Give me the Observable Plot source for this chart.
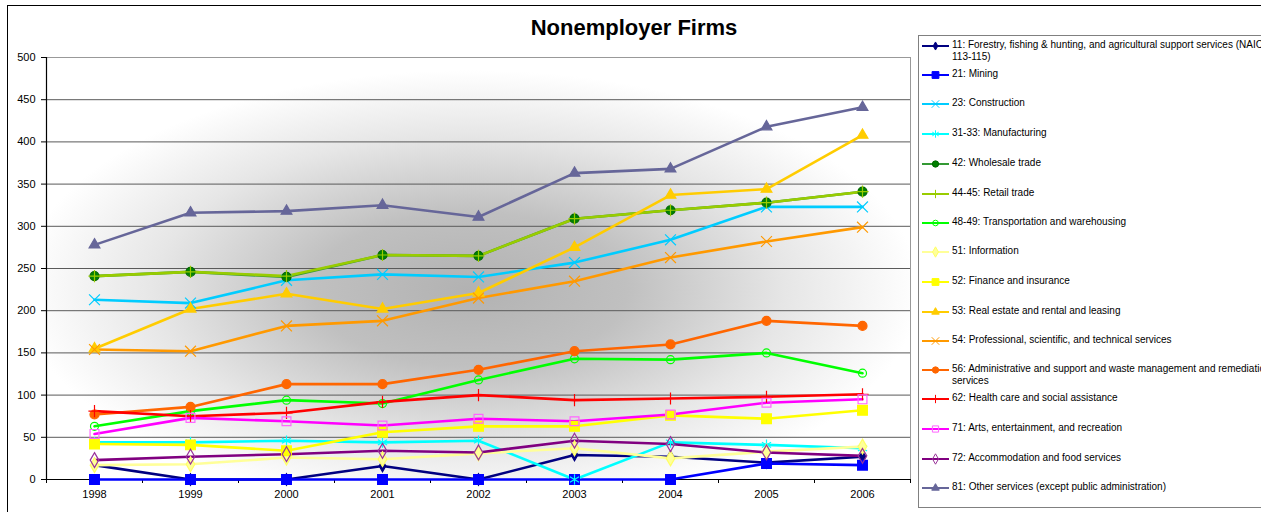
<!DOCTYPE html>
<html>
<head>
<meta charset="utf-8">
<script src="https://cdn.jsdelivr.net/npm/d3@7"></script>
<script src="https://cdn.jsdelivr.net/npm/@observablehq/plot@0.6"></script>
<style>
  html, body { margin: 0; padding: 0; background: #fff; overflow: hidden; }
  #wrap { position: relative; width: 1261px; height: 512px; overflow: hidden; font-family: "Liberation Sans", Arial, sans-serif; }
  #border { position: absolute; left: 7px; top: 5px; width: 1300px; height: 600px; border-top: 1px solid #000; border-left: 1px solid #000; }
  #title { position: absolute; left: 0; width: 1268px; top: 15px; text-align: center; font-weight: bold; font-size: 22px; color: #000; }
  #chart { position: absolute; left: 0; top: 0; }
  #legend { position: absolute; left: 918px; top: 35px; width: 400px; height: 471px; border: 1px solid #808080; background: #fff; }
  .row { position: absolute; left: 0; height: 12px; white-space: nowrap; }
  .row svg { position: absolute; left: 3px; top: 0; }
  .row span { position: absolute; left: 33px; top: -1px; font-size: 10px; line-height: 12px; color: #000; letter-spacing: 0px; }
</style>
</head>
<body>
<div id="wrap">
  <div id="border"></div>
  <div id="chart"></div>
  <div id="title">Nonemployer Firms</div>
  <div id="legend"></div>
</div>
<script>
// ---- data ----
const years = [1998, 1999, 2000, 2001, 2002, 2003, 2004, 2005, 2006];
const yTicks = [0, 50, 100, 150, 200, 250, 300, 350, 400, 450, 500];

const forestry      = [17, 0, 0, 16, 0, 29, 27, 20, 27];
const mining        = [0, 0, 0, 0, 0, 0, 0, 19, 17];
const construction  = [213, 209, 236, 243, 240, 257, 284, 323, 323];
const manufacturing = [44, 44, 46, 44, 46, 0, 44, 41, 37];
const wholesale     = [241, 246, 240, 266, 265, 309, 319, 328, 341];
const retail        = [241, 246, 241, 266, 265, 309, 319, 328, 341];
const transport     = [63, 81, 94, 90, 118, 143, 142, 150, 126];
const information   = [17, 18, 26, 24, 31, 37, 25, 33, 39];
const finance       = [42, 41, 34, 56, 63, 63, 76, 72, 82];
const realEstate    = [155, 202, 220, 202, 221, 275, 337, 344, 408];
const professional  = [154, 152, 182, 188, 215, 235, 263, 282, 299];
const admin         = [77, 86, 113, 113, 130, 152, 160, 188, 182];
const health        = [81, 75, 79, 92, 100, 94, 96, 98, 101];
const arts          = [54, 73, 69, 64, 72, 69, 77, 91, 95];
const accommodation = [23, 27, 30, 34, 32, 46, 42, 32, 28];
const other         = [278, 316, 318, 325, 311, 363, 368, 418, 441];

const seriesNames = [
  "11: Forestry, fishing & hunting, and agricultural support services (NAICS|113-115)",
  "21: Mining",
  "23: Construction",
  "31-33: Manufacturing",
  "42: Wholesale trade",
  "44-45: Retail trade",
  "48-49: Transportation and warehousing",
  "51: Information",
  "52: Finance and insurance",
  "53: Real estate and rental and leasing",
  "54: Professional, scientific, and technical services",
  "56: Administrative and support and waste management and remediation|services",
  "62: Health care and social assistance",
  "71: Arts, entertainment, and recreation",
  "72: Accommodation and food services",
  "81: Other services (except public administration)"
];
const seriesValues = [forestry, mining, construction, manufacturing, wholesale, retail, transport,
  information, finance, realEstate, professional, admin, health, arts, accommodation, other];

// ---- styles (separate from data) ----
const styles = [
  {line: "#000080", symbol: "diamond", fill: "#000080", stroke: "#000080", r: 3.5},
  {line: "#0000FF", symbol: "square", fill: "#0000FF", stroke: "#0000FF", r: 5.5},
  {line: "#00CCFF", symbol: "times", fill: "none", stroke: "#00CCFF", r: 5},
  {line: "#00FFFF", symbol: "asterisk", fill: "none", stroke: "#00FFFF", r: 5},
  {line: "#339933", symbol: "circle", fill: "#008000", stroke: "#006600", r: 4.5},
  {line: "#99CC00", symbol: "plus", fill: "none", stroke: "#99CC00", r: 4},
  {line: "#00FF00", symbol: "circle", fill: "none", stroke: "#00FF00", r: 4},
  {line: "#FFFF99", symbol: "diamond", fill: "#FFFF99", stroke: "#FFFF66", r: 4.5},
  {line: "#FFFF00", symbol: "square", fill: "#FFFF00", stroke: "#FFFF00", r: 5.5},
  {line: "#FFCC00", symbol: "triangle", fill: "#FFCC00", stroke: "#FFCC00", r: 4},
  {line: "#FF9900", symbol: "times", fill: "none", stroke: "#FF9900", r: 5},
  {line: "#FF6600", symbol: "circle", fill: "#FF6600", stroke: "#FF6600", r: 4.5},
  {line: "#FF0000", symbol: "plus", fill: "none", stroke: "#FF0000", r: 4},
  {line: "#FF00FF", symbol: "square", fill: "none", stroke: "#FF66FF", r: 5},
  {line: "#800080", symbol: "diamond", fill: "none", stroke: "#993399", r: 4.5},
  {line: "#666699", symbol: "triangle", fill: "#666699", stroke: "#666699", r: 4}
];

// ---- build table ----
const table = seriesValues.map((vals, i) => years.map((yr, j) => ({year: yr, value: vals[j], s: i})));

const bounds = d3.range(years.length + 1).map(i => years[0] - 0.5 + i);

const W = 1261, H = 512;
const lineMarks = table.map((d, i) => Plot.line(d, {x: "year", y: "value", stroke: styles[i].line, strokeWidth: 2.6}));
const dotMarks = table.map((d, i) => Plot.dot(d, {
  x: "year", y: "value", symbol: styles[i].symbol, r: styles[i].r,
  fill: styles[i].fill, stroke: styles[i].stroke, strokeWidth: 1.2
}));

const plot = Plot.plot({
  width: W, height: H,
  marginLeft: 46, marginRight: W - 910, marginTop: 57, marginBottom: H - 479,
  style: {fontFamily: "'Liberation Sans', Arial, sans-serif", fontSize: "11px", color: "#000", background: "transparent", overflow: "visible"},
  x: {domain: [bounds[0], bounds[bounds.length - 1]]},
  y: {domain: [0, 500]},
  marks: [
    Plot.frame({fill: "url(#bgGrad)", stroke: null}),
    Plot.gridY(yTicks, {stroke: "#5a5a5a", strokeOpacity: 1, strokeWidth: 1}),
    Plot.ruleY([500], {stroke: "#999"}),
    Plot.ruleX([bounds[bounds.length - 1]], {stroke: "#999"}),
    Plot.axisY(yTicks, {tickSize: 5, tickPadding: 6, label: null, fontSize: 11, tickFormat: d => d}),
    Plot.axisX(bounds, {tickSize: 4, tickFormat: () => "", label: null}),
    Plot.axisX(years, {tickSize: 0, tickPadding: 11, tickFormat: d => String(d), label: null, fontSize: 11}),
    Plot.ruleX([bounds[0]], {stroke: "#000", strokeWidth: 1.2}),
    Plot.ruleY([0], {stroke: "#000", strokeWidth: 1.2}),
    ...lineMarks,
    ...dotMarks
  ]
});

// gradient definition
const ns = "http://www.w3.org/2000/svg";
const defs = document.createElementNS(ns, "defs");
defs.innerHTML = `<radialGradient id="bgGrad" cx="0.49" cy="0.55" r="0.52" gradientUnits="objectBoundingBox">
  <stop offset="0" stop-color="#b2b2b2"/>
  <stop offset="0.35" stop-color="#c0c0c0"/>
  <stop offset="0.7" stop-color="#e6e6e6"/>
  <stop offset="1" stop-color="#ffffff"/>
</radialGradient>`;
plot.insertBefore(defs, plot.firstChild);
document.getElementById("chart").appendChild(plot);

// ---- legend ----
const legendRowsY = [44, 73, 102, 132, 162, 192, 221, 250, 280, 310, 339, 368, 397, 427, 457, 486];
const legend = document.getElementById("legend");
const symPath = (name, r) => {
  const map = {diamond: d3.symbolDiamond, square: d3.symbolSquare, times: d3.symbolTimes, asterisk: d3.symbolAsterisk,
    circle: d3.symbolCircle, plus: d3.symbolPlus, triangle: d3.symbolTriangle};
  return d3.symbol(map[name], Math.PI * r * r)();
};
seriesNames.forEach((name, i) => {
  const st = styles[i];
  const row = document.createElement("div");
  row.className = "row";
  row.style.top = (legendRowsY[i] - 36 - 4) + "px";
  const rs = st.r * 0.7;
  row.innerHTML = `<svg width="28" height="12"><line x1="0" y1="6" x2="27" y2="6" stroke="${st.line}" stroke-width="2"/>
    <path transform="translate(13.5,6)" d="${symPath(st.symbol, rs)}" fill="${st.fill}" stroke="${st.stroke}" stroke-width="1"/></svg>`;
  const span = document.createElement("span");
  span.innerHTML = name.split("|").map(s => s.replace(/&/g, "&amp;")).join("<br>");
  row.appendChild(span);
  legend.appendChild(row);
});
</script>
</body>
</html>
